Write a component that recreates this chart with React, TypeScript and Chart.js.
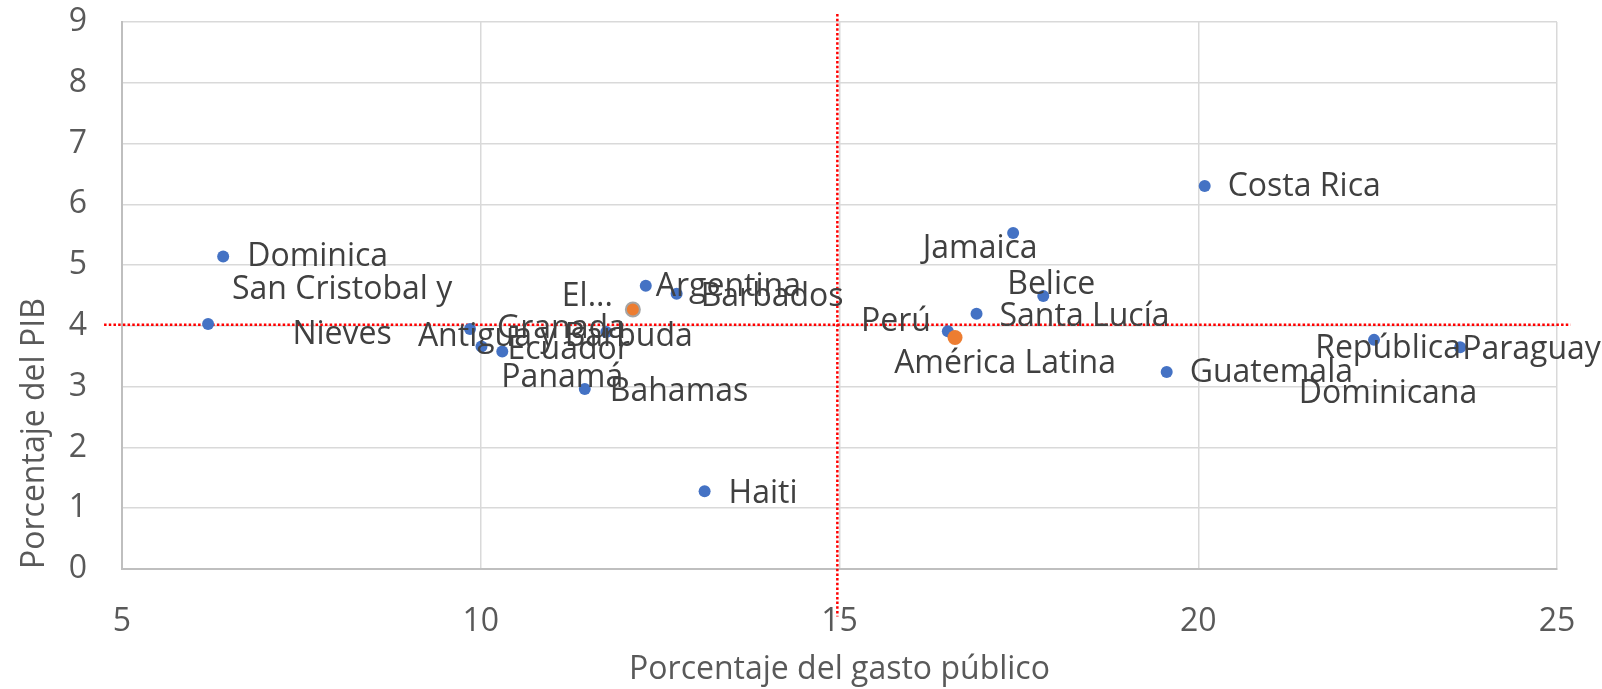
import React, { useEffect, useRef } from "react";
import { Chart, registerables } from "chart.js";

Chart.register(...registerables);

// ---- Data ----
const countries = [
  "Dominica",
  "San Cristobal y Nieves",
  "Granada",
  "Ecuador",
  "Panamá",
  "Antigua y Barbuda",
  "El Salvador",
  "Argentina",
  "Barbados",
  "Bahamas",
  "Haiti",
  "Jamaica",
  "Belice",
  "Santa Lucía",
  "Perú",
  "América Latina",
  "Guatemala",
  "Costa Rica",
  "República Dominicana",
  "Paraguay",
];
const gastoPublico = [6.41, 6.2, 9.85, 10.01, 10.3, 11.75, 12.12, 12.3, 12.73, 11.45, 13.12, 17.42, 17.84, 16.91, 16.51, 16.61, 19.56, 20.09, 22.45, 23.65];
const pibPct = [5.14, 4.03, 3.95, 3.66, 3.58, 3.9, 4.27, 4.66, 4.53, 2.96, 1.28, 5.53, 4.49, 4.2, 3.91, 3.81, 3.24, 6.3, 3.77, 3.65];
const pointLabels = [
  "Dominica",
  "San Cristobal y\nNieves",
  "Granada",
  "Ecuador",
  "Panamá",
  "Antigua y Barbuda",
  "El...",
  "Argentina",
  "Barbados",
  "Bahamas",
  "Haiti",
  "Jamaica",
  "Belice",
  "Santa Lucía",
  "Perú",
  "América Latina",
  "Guatemala",
  "Costa Rica",
  "República\nDominicana",
  "Paraguay",
];
const xTicks = [5, 10, 15, 20, 25];
const yTicks = [0, 1, 2, 3, 4, 5, 6, 7, 8, 9];
const refX = 14.97; // vertical reference
const refY = 4.02; // horizontal reference

// ---- Styling (label placement relative to each point, in px) ----
type Place = { align: CanvasTextAlign; dx: number; dy: number };
const labelPlacement: Place[] = [
  { align: "left", dx: 24, dy: 0 },
  { align: "center", dx: 134, dy: -12 },
  { align: "left", dx: 27, dy: 0 },
  { align: "left", dx: 26, dy: 3 },
  { align: "center", dx: 60, dy: 26 },
  { align: "center", dx: -51, dy: 5 },
  { align: "right", dx: -20, dy: -13 },
  { align: "left", dx: 10, dy: 1 },
  { align: "left", dx: 24, dy: 3 },
  { align: "left", dx: 25, dy: 3 },
  { align: "left", dx: 24, dy: 3 },
  { align: "center", dx: -33, dy: 16 },
  { align: "center", dx: 8, dy: -11 },
  { align: "left", dx: 23, dy: 3 },
  { align: "right", dx: -17, dy: -9 },
  { align: "center", dx: 50, dy: 26 },
  { align: "left", dx: 23, dy: 1 },
  { align: "left", dx: 23, dy: 1 },
  { align: "center", dx: 14, dy: 32 },
  { align: "left", dx: 2, dy: 3 },
];

const BLUE = "#4472C4";
const ORANGE = "#ED7D31";
const FONT = "'Open Sans', sans-serif";
const TEXT_SIZE = 32;

const labelPlugin = {
  id: "pointLabels",
  afterDatasetsDraw(chart: any) {
    const meta = chart.getDatasetMeta(0);
    const ctx = chart.ctx;
    ctx.save();
    ctx.font = `${TEXT_SIZE}px ${FONT}`;
    ctx.fillStyle = "#404040";
    ctx.textBaseline = "middle";
    meta.data.forEach((el: any, i: number) => {
      const p = labelPlacement[i];
      const lines = pointLabels[i].split("\n");
      const lh = 45;
      ctx.textAlign = p.align;
      const startY = el.y + p.dy - ((lines.length - 1) * lh) / 2;
      lines.forEach((ln, k) => {
        ctx.fillText(ln, el.x + p.dx, startY + k * lh);
      });
    });
    ctx.restore();
  },
};

export default function App() {
  const ref = useRef<HTMLCanvasElement>(null);
  useEffect(() => {
    if (!ref.current) return;
    const bg = countries.map((c) => (c === "América Latina" || c === "El Salvador" ? ORANGE : BLUE));
    const border = countries.map((c) => (c === "El Salvador" ? "#A5A5A5" : c === "América Latina" ? ORANGE : BLUE));
    const bw = countries.map((c) => (c === "El Salvador" ? 2 : 0));
    const rad = countries.map((c) => (c === "América Latina" ? 7.5 : c === "El Salvador" ? 7 : 6));
    const chart = new Chart(ref.current, {
      type: "scatter",
      data: {
        datasets: [
          {
            label: "países",
            data: gastoPublico.map((x, i) => ({ x, y: pibPct[i] })),
            backgroundColor: bg,
            borderColor: border,
            borderWidth: bw,
            pointRadius: rad,
            order: 0,
          } as any,
          {
            label: "refY",
            data: [
              { x: 4.75, y: refY },
              { x: 25.19, y: refY },
            ],
            showLine: true,
            borderColor: "#FF0000",
            borderWidth: 2.5,
            borderDash: [2.5, 2.2],
            pointRadius: 0,
            clip: false,
            order: 1,
          } as any,
          {
            label: "refX",
            data: [
              { x: refX, y: 9.13 },
              { x: refX, y: -0.78 },
            ],
            showLine: true,
            borderColor: "#FF0000",
            borderWidth: 2.5,
            borderDash: [2.5, 2.2],
            pointRadius: 0,
            clip: false,
            order: 1,
          } as any,
        ],
      },
      options: {
        animation: false,
        responsive: false,
        maintainAspectRatio: false,
        layout: { padding: { top: 22, right: 45, left: 0, bottom: 0 } },
        plugins: { legend: { display: false }, tooltip: { enabled: false } },
        scales: {
          x: {
            type: "linear",
            min: 5,
            max: 25,
            afterBuildTicks: (s: any) => {
              s.ticks = xTicks.map((v) => ({ value: v }));
            },
            afterFit: (s: any) => {
              s.height = 120;
              s.paddingLeft = 0;
              s.paddingRight = 0;
            },
            ticks: { font: { family: FONT, size: TEXT_SIZE }, color: "#595959", padding: 34 },
            grid: { color: "#D9D9D9", lineWidth: 1.5, drawTicks: false },
            border: { color: "#BFBFBF", width: 2 },
            title: {
              display: true,
              text: "Porcentaje del gasto público",
              font: { family: FONT, size: TEXT_SIZE },
              color: "#595959",
              padding: { top: 0, bottom: 0 },
            },
          },
          y: {
            type: "linear",
            min: 0,
            max: 9,
            afterBuildTicks: (s: any) => {
              s.ticks = yTicks.map((v) => ({ value: v }));
            },
            afterFit: (s: any) => {
              s.width = 122;
              s.paddingTop = 0;
              s.paddingBottom = 0;
            },
            ticks: { font: { family: FONT, size: TEXT_SIZE }, color: "#595959", padding: 35 },
            grid: { color: "#D9D9D9", lineWidth: 1.5, drawTicks: false },
            border: { color: "#BFBFBF", width: 2 },
            title: {
              display: true,
              text: "Porcentaje del PIB",
              align: "start",
              font: { family: FONT, size: TEXT_SIZE },
              color: "#595959",
              padding: { top: 16, bottom: 0 },
            },
          },
        },
      },
      plugins: [labelPlugin],
    });
    return () => chart.destroy();
  }, []);
  return (
    <div style={{ position: "fixed", left: 0, top: 0, width: 1602, height: 689, background: "#fff" }}>
      <canvas ref={ref} width={1602} height={689} style={{ width: 1602, height: 689, display: "block" }} />
    </div>
  );
}
